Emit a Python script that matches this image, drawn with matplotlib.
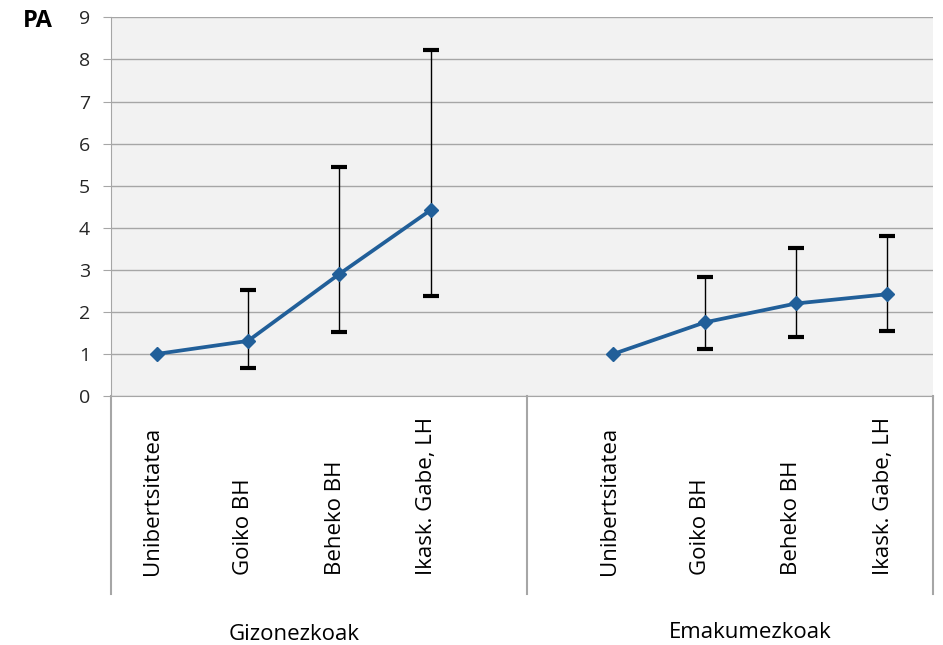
import matplotlib.pyplot as plt
import numpy as np

# categorias y grupos
categorias = ['Unibertsitatea', 'Goiko BH', 'Beheko BH', 'Ikask. Gabe, LH']
grupos = ['Gizonezkoak', 'Emakumezkoak']

# PA e intervalos de confianza (el primero es la referencia)
pa_gizon = [1.0, 1.31, 2.90, 4.42]
inf_gizon = [np.nan, 0.66, 1.52, 2.38]
sup_gizon = [np.nan, 2.53, 5.45, 8.22]

pa_emakume = [1.0, 1.75, 2.20, 2.42]
inf_emakume = [np.nan, 1.11, 1.40, 1.54]
sup_emakume = [np.nan, 2.82, 3.51, 3.81]

plt.rcParams['font.family'] = ['Open Sans', 'DejaVu Sans']

fig = plt.figure(figsize=(9.43, 6.45), dpi=100)
ax = fig.add_axes([0.1177, 0.386, 0.8717, 0.587])
ax.set_facecolor('#F2F2F2')

azul = '#215F99'
gris = '#A6A6A6'

x1 = np.arange(4)
x2 = np.arange(4) + 5

for x, pa, inf, sup in [(x1, pa_gizon, inf_gizon, sup_gizon),
                        (x2, pa_emakume, inf_emakume, sup_emakume)]:
    pa = np.array(pa)
    err = np.vstack([pa - np.array(inf), np.array(sup) - pa])
    ax.errorbar(x, pa, yerr=err, fmt='none', ecolor='black', elinewidth=1,
                capsize=6, capthick=3, zorder=3)
    ax.plot(x, pa, color=azul, lw=2.7, marker='D', markersize=7, zorder=4)

ax.set_xlim(-0.5, 8.5)
ax.set_ylim(0, 9)
ax.set_yticks(range(10))
ax.yaxis.grid(True, color=gris, lw=1)
ax.set_axisbelow(True)
ax.set_xticks([])
ax.tick_params(axis='y', length=6, color=gris, labelsize=14,
               labelcolor='#262626', pad=9)

for lado in ['top', 'right']:
    ax.spines[lado].set_visible(False)
ax.spines['left'].set_color(gris)
ax.spines['bottom'].set_color(gris)

trans = ax.get_xaxis_transform()
# lineas que separan los grupos
for xd in [-0.5, 4.05, 8.5]:
    ax.plot([xd, xd], [0, -0.523], color=gris, lw=1.5, transform=trans,
            clip_on=False)

for x in list(x1) + list(x2):
    ax.text(x - 0.045, -0.473, categorias[x if x < 5 else x - 5],
            rotation=90, ha='center', va='bottom', fontsize=16,
            transform=trans)

ax.text(1.5, -0.629, grupos[0], ha='center', va='center', fontsize=16,
        transform=trans)
ax.text(6.5, -0.624, grupos[1], ha='center', va='center', fontsize=16,
        transform=trans)

fig.text(38 / 943, 1 - 21 / 645, 'PA', ha='center', va='center',
         fontsize=17, fontweight='bold')

fig.savefig('out.png', dpi=100)
